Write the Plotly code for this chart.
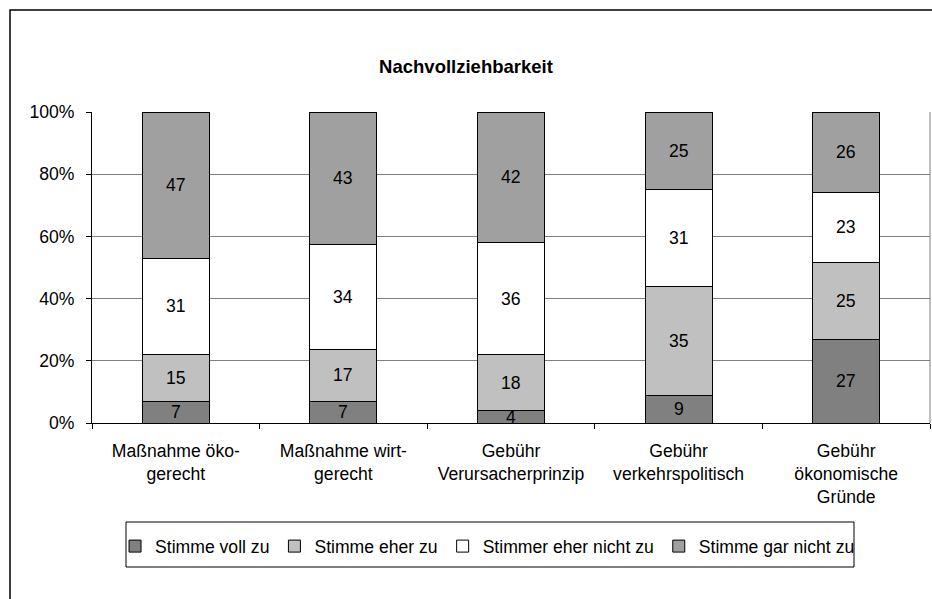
import plotly.graph_objects as go

categories = [
    "Maßnahme öko-<br>gerecht",
    "Maßnahme wirt-<br>gerecht",
    "Gebühr<br>Verursacherprinzip",
    "Gebühr<br>verkehrspolitisch",
    "Gebühr<br>ökonomische<br>Gründe",
]
series_names = ["Stimme voll zu", "Stimme eher zu", "Stimmer eher nicht zu", "Stimme gar nicht zu"]
voll_zu = [7, 7, 4, 9, 27]
eher_zu = [15, 17, 18, 35, 25]
eher_nicht_zu = [31, 34, 36, 31, 23]
gar_nicht_zu = [47, 43, 42, 25, 26]
y_ticks = [0, 20, 40, 60, 80, 100]

colors = ["#808080", "#c0c0c0", "#ffffff", "#a0a0a0"]
font = "Liberation Sans, Arial, sans-serif"
series = [voll_zu, eher_zu, eher_nicht_zu, gar_nicht_zu]

fig = go.Figure()
for name, vals, col in zip(series_names, series, colors):
    fig.add_trace(go.Bar(
        name=name, x=categories, y=vals, textposition="none",
        marker=dict(color=col, line=dict(color="black", width=1)),
        width=0.4,
    ))

# value labels centred in each segment (percent of the bar total, as barnorm does)
totals = [sum(s[i] for s in series) for i in range(len(categories))]
for i, cat in enumerate(categories):
    base = 0
    for s in series:
        share = 100 * s[i] / totals[i]
        fig.add_annotation(x=cat, y=base + share / 2, text=str(s[i]), showarrow=False,
                           font=dict(size=17.6, color="black", family=font))
        base += share

fig.update_layout(
    width=932, height=599,
    barmode="stack", barnorm="percent",
    font=dict(family=font, size=17.6, color="black"),
    paper_bgcolor="white", plot_bgcolor="white",
    margin=dict(l=92, r=2, t=112, b=176),
    title=dict(text="<b>Nachvollziehbarkeit</b>", x=0.5, xref="container", xanchor="center",
               y=1 - 67 / 599, yref="container", yanchor="middle",
               font=dict(size=18.5, family=font, color="black")),
    legend=dict(orientation="h", x=0.472, xanchor="center", y=-0.396, yanchor="middle",
                font=dict(size=17.6, family=font, color="black"), traceorder="normal",
                bgcolor="rgba(0,0,0,0)"),
    showlegend=True,
)
fig.update_xaxes(showline=True, linecolor="black", linewidth=1, ticks="outside",
                 tickson="boundaries", ticklen=5, tickcolor="black", showgrid=False,
                 tickfont=dict(size=17.6), ticklabelstandoff=12)
fig.update_yaxes(range=[0, 100], tickvals=y_ticks, ticktext=[f"{v}%" for v in y_ticks],
                 showline=True, linecolor="black", linewidth=1, ticks="outside", ticklen=5,
                 tickcolor="black", showgrid=True, gridcolor="#808080", gridwidth=1,
                 zeroline=False, tickfont=dict(size=17.6), ticklabelstandoff=8)

# outer chart frame, legend box, right plot border
fig.add_shape(type="rect", xref="paper", yref="paper", x0=-82 / 838, x1=1.2, y0=-1.0, y1=413 / 311,
              line=dict(color="black", width=1.5), layer="below")
fig.add_shape(type="rect", xref="paper", yref="paper", x0=34 / 838, x1=762 / 838,
              y0=-144 / 311, y1=-99 / 311, line=dict(color="black", width=1))
fig.add_shape(type="line", xref="paper", yref="paper", x0=1, x1=1, y0=0, y1=1,
              line=dict(color="#808080", width=1))

fig.write_html("out.html", config={"displayModeBar": False},
               post_script="document.body.style.margin='0';")
